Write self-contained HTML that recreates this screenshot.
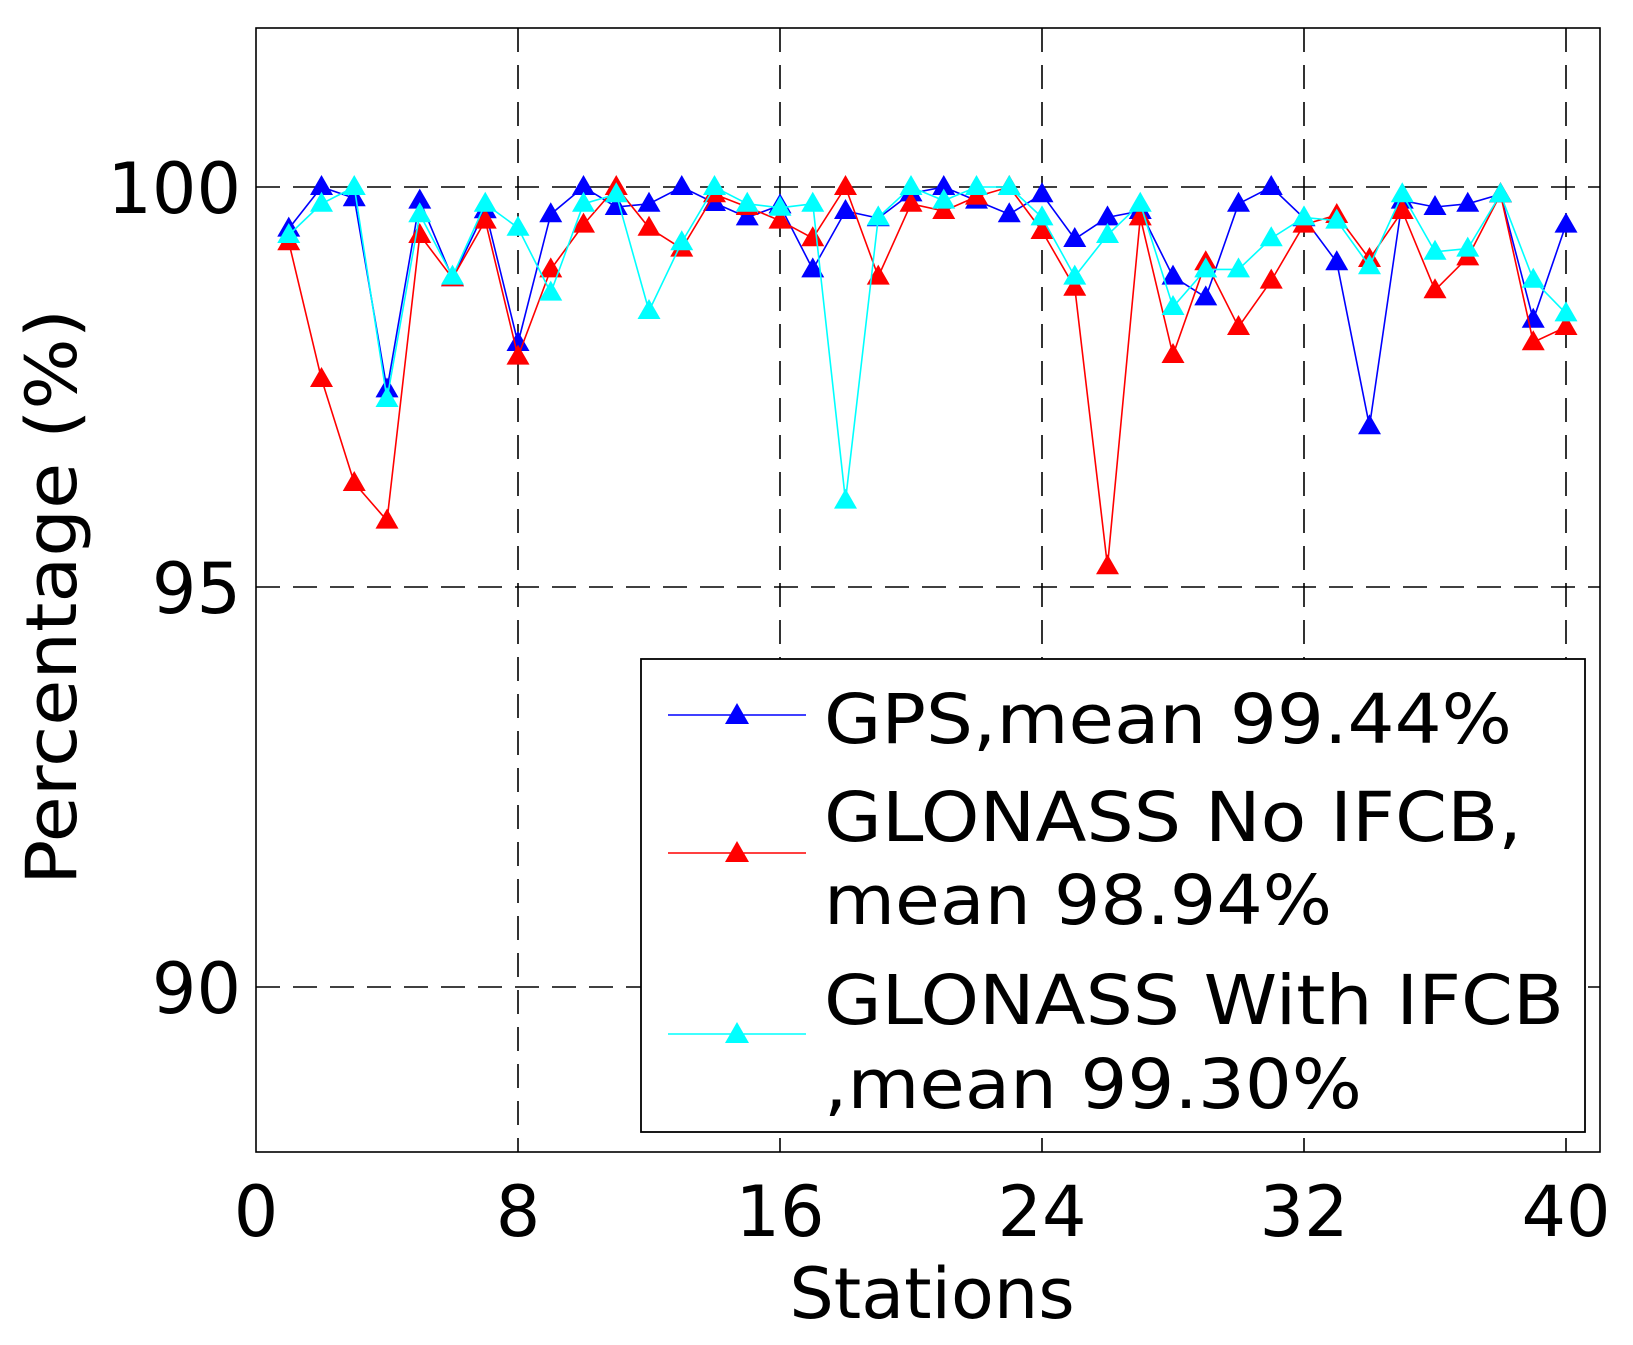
<!DOCTYPE html>
<html><head><meta charset="utf-8"><style>
html,body{margin:0;padding:0;background:#fff}
svg{display:block}
text{font-family:"DejaVu Sans","Liberation Sans",sans-serif;fill:#000}
</style></head><body>
<svg id="s" width="1633" height="1345" viewBox="0 0 1633 1345" xmlns="http://www.w3.org/2000/svg">
<rect x="0" y="0" width="1633" height="1345" fill="#fff"/>
<g stroke="#000" stroke-width="1.6" stroke-dasharray="24,13" fill="none">
<line x1="256" y1="187" x2="1600" y2="187"/>
<line x1="256" y1="587" x2="1600" y2="587"/>
<line x1="256" y1="987" x2="1600" y2="987"/>
<line x1="518" y1="28" x2="518" y2="1152"/>
<line x1="780" y1="28" x2="780" y2="1152"/>
<line x1="1042" y1="28" x2="1042" y2="1152"/>
<line x1="1304" y1="28" x2="1304" y2="1152"/>
<line x1="1566" y1="28" x2="1566" y2="1152"/>
</g>
<rect x="256" y="28" width="1344" height="1124" fill="none" stroke="#000" stroke-width="1.6"/>
<g id="series"></g>
<rect x="641" y="659" width="944" height="473" fill="#fff" stroke="#000" stroke-width="1.8"/>
<line x1="668" y1="715" x2="806" y2="715" stroke="#0000ff" stroke-width="1.5"/>
<polygon points="737,703 725,724 749,724" fill="#0000ff"/>
<line x1="668" y1="853" x2="806" y2="853" stroke="#ff0000" stroke-width="1.5"/>
<polygon points="737,841 725,862 749,862" fill="#ff0000"/>
<line x1="668" y1="1034" x2="806" y2="1034" stroke="#00ffff" stroke-width="1.5"/>
<polygon points="737,1022 725,1043 749,1043" fill="#00ffff"/>
<g font-size="69">
<text x="824" y="743" textLength="688" lengthAdjust="spacingAndGlyphs">GPS,mean 99.44%</text>
<text x="824" y="841" textLength="698" lengthAdjust="spacingAndGlyphs">GLONASS No IFCB,</text>
<text x="824" y="924" textLength="508" lengthAdjust="spacingAndGlyphs">mean 98.94%</text>
<text x="824" y="1024" textLength="740" lengthAdjust="spacingAndGlyphs">GLONASS With IFCB</text>
<text x="824" y="1108" textLength="538" lengthAdjust="spacingAndGlyphs">,mean 99.30%</text>
</g>
<g font-size="70" text-anchor="end">
<text x="241" y="213">100</text>
<text x="241" y="613">95</text>
<text x="241" y="1013">90</text>
</g>
<g font-size="70" text-anchor="middle">
<text x="256" y="1236">0</text>
<text x="518" y="1236">8</text>
<text x="780" y="1236">16</text>
<text x="1042" y="1236">24</text>
<text x="1304" y="1236">32</text>
<text x="1566" y="1236">40</text>
<text x="932" y="1318">Stations</text>
<text transform="translate(76,597) rotate(-90)" x="0" y="0" textLength="576" lengthAdjust="spacingAndGlyphs">Percentage (%)</text>
</g>
</svg>
<script>
var gps=[99.48,100,99.86,97.47,99.83,98.86,99.71,98.05,99.66,100,99.75,99.79,100,99.8,99.62,99.77,98.97,99.7,99.61,99.92,100,99.83,99.66,99.91,99.35,99.62,99.7,98.88,98.62,99.79,100,99.61,99.06,97.01,99.83,99.75,99.79,99.91,98.34,99.53];
var red=[99.31,97.6,96.3,95.83,99.4,98.86,99.58,97.88,98.97,99.53,100,99.49,99.23,99.91,99.75,99.58,99.36,100,98.88,99.79,99.7,99.88,100,99.45,98.74,95.26,99.62,97.9,99.06,98.25,98.83,99.53,99.65,99.1,99.7,98.71,99.12,99.91,98.06,98.25];
var cy=[99.4,99.79,100,97.35,99.66,98.88,99.79,99.49,98.68,99.79,99.91,98.45,99.31,100,99.79,99.74,99.79,96.08,99.62,100,99.83,100,100,99.62,98.88,99.4,99.79,98.5,98.97,98.97,99.36,99.62,99.58,99.01,99.91,99.19,99.23,99.91,98.84,98.42];
var g=document.getElementById('series'),NS='http://www.w3.org/2000/svg';
function X(i){return 256+32.75*i}function Y(v){return 187+(100-v)*80}
function draw(d,c){var p=[];for(var i=0;i<d.length;i++)p.push(X(i+1).toFixed(1)+','+Y(d[i]).toFixed(1));
var pl=document.createElementNS(NS,'polyline');pl.setAttribute('points',p.join(' '));pl.setAttribute('fill','none');pl.setAttribute('stroke',c);pl.setAttribute('stroke-width','1.6');g.appendChild(pl);
for(i=0;i<d.length;i++){var x=X(i+1),y=Y(d[i]);var t=document.createElementNS(NS,'polygon');
t.setAttribute('points',x+','+(y-12)+' '+(x-11.5)+','+(y+8)+' '+(x+11.5)+','+(y+8));t.setAttribute('fill',c);g.appendChild(t);}}
draw(gps,'#0000ff');draw(red,'#ff0000');draw(cy,'#00ffff');
</script>
</body></html>
